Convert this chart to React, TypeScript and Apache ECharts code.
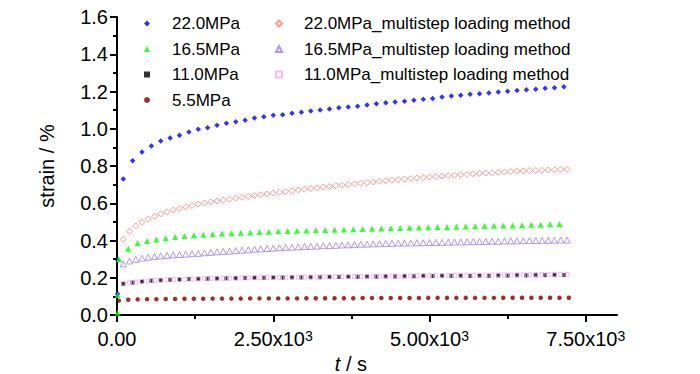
import React, { useEffect, useRef } from "react";
import * as echarts from "echarts";

// time stamps (s)
const tA = [100,250,400,550,700,850,1000,1150,1300,1450,1600,1750,1900,2050,2200,2350,2500,2650,2800,2950,3100,3250,3400,3550,3700,3850,4000,4150,4300,4450,4600,4750,4900,5050,5200,5350,5500,5650,5800,5950,6100,6250,6400,6550,6700,6850,7000,7150];
const tB = [30,180,330,480,630,780,930,1080,1230,1380,1530,1680,1830,1980,2130,2280,2430,2580,2730,2880,3030,3180,3330,3480,3630,3780,3930,4080,4230,4380,4530,4680,4830,4980,5130,5280,5430,5580,5730,5880,6030,6180,6330,6480,6630,6780,6930,7080];
const tC = [30,180,330,480,630,780,930,1080,1230,1380,1530,1680,1830,1980,2130,2280,2430,2580,2730,2880,3030,3180,3330,3480,3630,3780,3930,4080,4230,4380,4530,4680,4830,4980,5130,5280,5430,5580,5730,5880,6030,6180,6330,6480,6630,6780,6930,7080,7230];
const tM = [100,200,300,400,500,600,700,800,900,1000,1100,1200,1300,1400,1500,1600,1700,1800,1900,2000,2100,2200,2300,2400,2500,2600,2700,2800,2900,3000,3100,3200,3300,3400,3500,3600,3700,3800,3900,4000,4100,4200,4300,4400,4500,4600,4700,4800,4900,5000,5100,5200,5300,5400,5500,5600,5700,5800,5900,6000,6100,6200,6300,6400,6500,6600,6700,6800,6900,7000,7100,7200];

// loading-phase points at t ~ 0
const tLoad = [10, 10];
const load22 = [0.113, 0.295];
const load165 = [0.012, 0.107];

// strain (%)
const s22 = [0.730,0.828,0.875,0.907,0.934,0.950,0.965,0.983,0.997,1.006,1.019,1.029,1.038,1.045,1.058,1.065,1.072,1.075,1.083,1.088,1.095,1.101,1.106,1.113,1.117,1.121,1.128,1.134,1.140,1.144,1.148,1.153,1.158,1.163,1.170,1.176,1.180,1.185,1.188,1.192,1.197,1.201,1.206,1.210,1.212,1.217,1.220,1.226];
const s165 = [0.299,0.356,0.387,0.397,0.406,0.412,0.419,0.424,0.428,0.431,0.434,0.437,0.439,0.441,0.443,0.445,0.447,0.449,0.451,0.452,0.454,0.455,0.457,0.458,0.459,0.461,0.462,0.463,0.465,0.466,0.467,0.468,0.470,0.471,0.472,0.473,0.474,0.475,0.476,0.478,0.479,0.480,0.481,0.482,0.484,0.485,0.487,0.489];
const s110 = [0.166,0.174,0.180,0.184,0.187,0.189,0.191,0.193,0.194,0.195,0.196,0.197,0.198,0.199,0.200,0.200,0.201,0.201,0.202,0.202,0.203,0.203,0.204,0.204,0.205,0.205,0.206,0.206,0.207,0.207,0.208,0.208,0.209,0.209,0.209,0.210,0.210,0.210,0.211,0.211,0.212,0.212,0.213,0.213,0.213,0.214,0.214,0.215];
const s55 = [0.077,0.082,0.084,0.085,0.085,0.086,0.086,0.087,0.087,0.087,0.088,0.088,0.088,0.088,0.089,0.089,0.089,0.089,0.089,0.089,0.090,0.090,0.090,0.090,0.090,0.090,0.091,0.091,0.091,0.091,0.091,0.091,0.091,0.092,0.092,0.092,0.092,0.092,0.092,0.092,0.092,0.093,0.093,0.093,0.093,0.093,0.093,0.093,0.093];
const m22 = [0.406,0.449,0.478,0.498,0.515,0.530,0.543,0.554,0.564,0.573,0.581,0.588,0.595,0.601,0.607,0.612,0.617,0.622,0.627,0.632,0.637,0.641,0.646,0.650,0.655,0.659,0.663,0.667,0.671,0.675,0.679,0.683,0.687,0.690,0.694,0.697,0.701,0.704,0.708,0.711,0.714,0.718,0.721,0.724,0.727,0.730,0.733,0.735,0.738,0.741,0.743,0.746,0.748,0.751,0.753,0.755,0.758,0.760,0.762,0.764,0.766,0.768,0.770,0.772,0.773,0.775,0.776,0.777,0.779,0.780,0.781,0.782];
const m165 = [0.274,0.290,0.299,0.305,0.310,0.314,0.317,0.320,0.323,0.325,0.327,0.329,0.331,0.334,0.336,0.339,0.341,0.343,0.346,0.348,0.350,0.353,0.355,0.357,0.359,0.361,0.363,0.364,0.366,0.368,0.369,0.370,0.372,0.373,0.374,0.376,0.377,0.378,0.380,0.381,0.382,0.383,0.384,0.385,0.386,0.386,0.387,0.388,0.388,0.389,0.390,0.390,0.391,0.392,0.392,0.393,0.394,0.394,0.395,0.396,0.396,0.397,0.398,0.398,0.399,0.399,0.400,0.401,0.401,0.402,0.402,0.403];
const m110 = [0.170,0.173,0.177,0.180,0.183,0.185,0.187,0.189,0.190,0.191,0.192,0.193,0.194,0.195,0.196,0.197,0.197,0.198,0.198,0.199,0.199,0.200,0.200,0.201,0.201,0.202,0.202,0.203,0.203,0.204,0.204,0.204,0.205,0.205,0.206,0.206,0.206,0.207,0.207,0.208,0.208,0.208,0.209,0.209,0.209,0.210,0.210,0.210,0.211,0.211,0.211,0.212,0.212,0.212,0.213,0.213,0.213,0.214,0.214,0.214,0.215,0.215,0.215,0.216,0.216,0.216,0.217,0.217,0.217,0.218,0.218,0.218];

const names = [
  "22.0MPa", "16.5MPa", "11.0MPa", "5.5MPa",
  "22.0MPa_multistep loading method",
  "16.5MPa_multistep loading method",
  "11.0MPa_multistep loading method",
];
const xMajor = [0, 2500, 5000, 7500];
const xMinor = [1250, 3750, 6250];

const zip = (t: number[], v: number[]) => v.map((y, i) => [t[i], y]);

const SANS = '"Liberation Sans", Arial, sans-serif';
const HOLLOW = "rgba(255,255,255,0)";

export default function App() {
  const ref = useRef<HTMLDivElement>(null);
  useEffect(() => {
    document.body.style.margin = "0";
    if (!ref.current) return;
    const chart = echarts.init(ref.current, undefined, { renderer: "svg" });
    const axisLineStyle = { color: "#000", width: 2 };
    const legendBase = {
      orient: "vertical",
      padding: 0,
      itemWidth: 6,
      itemHeight: 6,
      itemGap: 8.5,
      selectedMode: false,
      textStyle: { fontFamily: SANS, fontSize: 17, color: "#000", lineHeight: 17, padding: [0, 0, 0, 17] },
    };
    const option: any = {
      animation: false,
      backgroundColor: "#fff",
      grid: { left: 117, right: 83, top: 17, bottom: 59, containLabel: false, outerBoundsMode: "none" },
      legend: [
        { ...legendBase, left: 144, top: 15, data: names.slice(0, 4) },
        { ...legendBase, left: 275, top: 15, data: names.slice(4) },
      ],
      xAxis: [
        {
          type: "value",
          min: 0,
          max: 8000,
          interval: 2500,
          name: "{i|t} / s",
          nameLocation: "middle",
          nameGap: 36,
          nameTextStyle: {
            fontFamily: SANS, fontSize: 20, color: "#000", align: "right",
            rich: { i: { fontFamily: SANS, fontSize: 20, fontStyle: "italic", color: "#000" } },
          },
          splitLine: { show: false },
          axisLine: { show: true, onZero: false, lineStyle: axisLineStyle },
          axisTick: { show: true, length: 7, lineStyle: axisLineStyle, customValues: xMajor },
          axisLabel: {
            customValues: xMajor,
            margin: 14,
            fontFamily: SANS,
            fontSize: 20,
            color: "#000",
            formatter: (v: number) => (v === 0 ? "0.00" : `${(v / 1000).toFixed(2)}x10{sup|3}`),
            rich: { sup: { fontFamily: SANS, fontSize: 14, verticalAlign: "top", color: "#000" } },
          },
        },
        {
          type: "value",
          min: 0,
          max: 8000,
          position: "bottom",
          splitLine: { show: false },
          axisLine: { show: false },
          axisTick: { show: true, length: 4, lineStyle: axisLineStyle, customValues: xMinor },
          axisLabel: { show: false },
        },
      ],
      yAxis: {
        type: "value",
        min: 0,
        max: 1.6,
        interval: 0.2,
        name: "strain / %",
        nameLocation: "middle",
        nameGap: 60,
        nameTextStyle: { fontFamily: SANS, fontSize: 20, color: "#000" },
        splitLine: { show: false },
        axisLine: { show: true, onZero: false, lineStyle: axisLineStyle },
        axisTick: { show: true, length: 7, lineStyle: axisLineStyle },
        minorTick: { show: true, splitNumber: 2, length: 4, lineStyle: axisLineStyle },
        axisLabel: {
          margin: 9,
          fontFamily: SANS,
          fontSize: 20,
          color: "#000",
          formatter: (v: number) => v.toFixed(1),
        },
      },
      series: [
        {
          name: names[0], type: "scatter", symbol: "diamond", symbolSize: 5.5,
          itemStyle: { color: "#0000FF" },
          data: [...zip(tLoad, load22), ...zip(tA, s22)],
        },
        {
          name: names[1], type: "scatter", symbol: "triangle", symbolSize: 6,
          itemStyle: { color: "#00FF00" },
          data: [...zip(tLoad, load165), ...zip(tB, s165)],
        },
        {
          name: names[2], type: "scatter", symbol: "rect", symbolSize: 4,
          itemStyle: { color: "#000000" },
          data: zip(tA, s110),
        },
        {
          name: names[3], type: "scatter", symbol: "circle", symbolSize: 4.5,
          itemStyle: { color: "#800000" },
          data: zip(tC, s55),
        },
        {
          name: names[4], type: "scatter", symbol: "diamond", symbolSize: 6,
          itemStyle: { color: HOLLOW, borderColor: "#FF8080", borderWidth: 1 },
          data: zip(tM, m22),
        },
        {
          name: names[5], type: "scatter", symbol: "triangle", symbolSize: 6,
          itemStyle: { color: HOLLOW, borderColor: "#A07CF5", borderWidth: 1 },
          data: zip(tM, m165),
        },
        {
          name: names[6], type: "scatter", symbol: "rect", symbolSize: 4,
          itemStyle: { color: HOLLOW, borderColor: "#F5A8F5", borderWidth: 1 },
          data: zip(tM, m110),
        },
      ],
    };
    chart.setOption(option);
    return () => chart.dispose();
  }, []);
  return <div ref={ref} style={{ width: 700, height: 374 }} />;
}
